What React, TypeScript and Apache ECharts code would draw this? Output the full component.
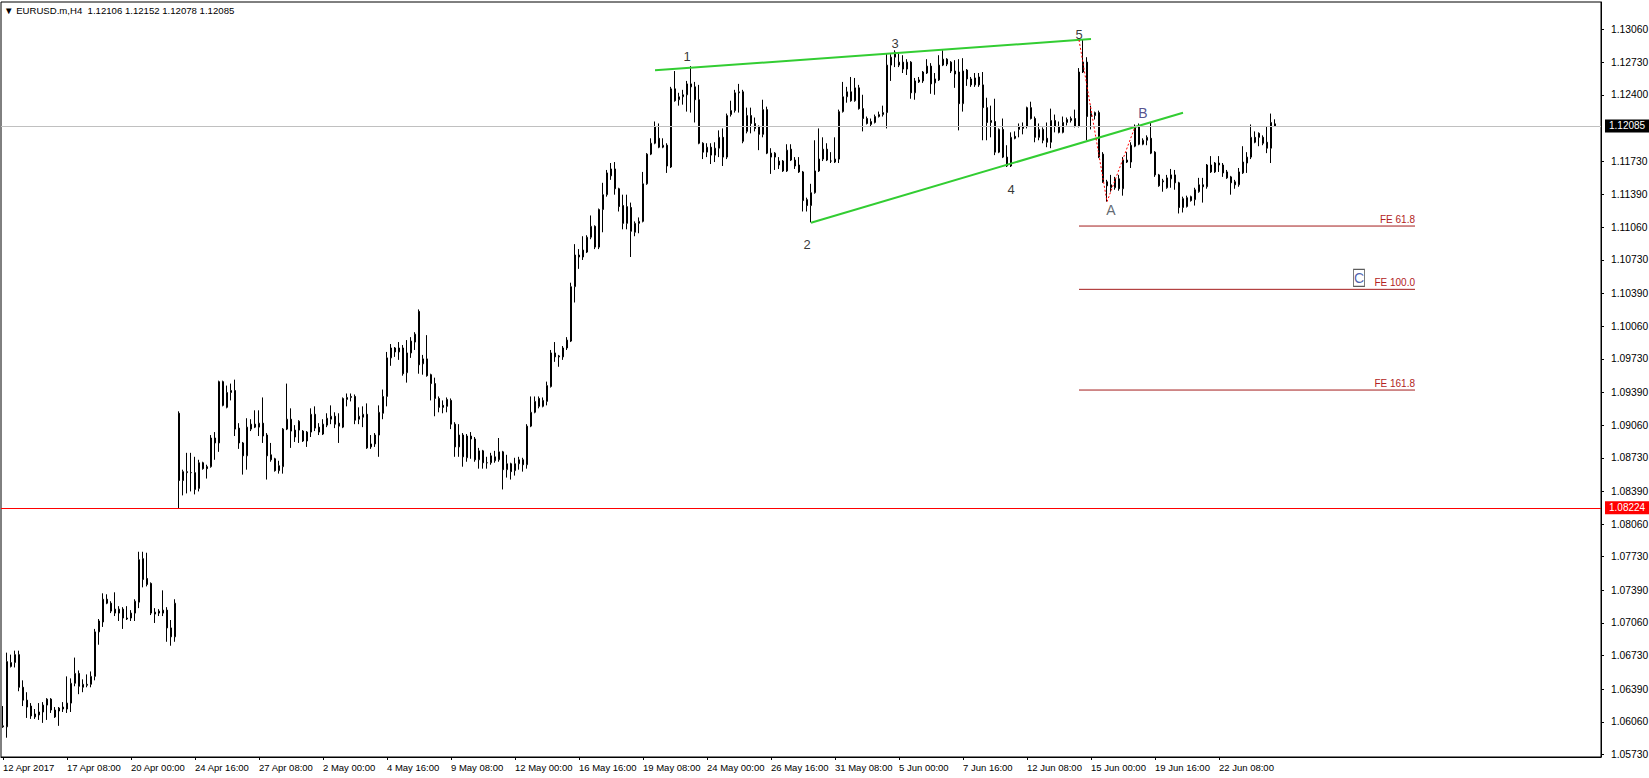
import { useEffect, useRef } from 'react';
import * as echarts from 'echarts';

// EURUSD.m H4, bar 0 = 12 Apr 2017 16:00, one bar every 4 px
const open = [
  1.0601, 1.0601, 1.0662, 1.0666, 1.0674, 1.0641, 1.0628, 1.0622, 1.0611, 1.0613,
  1.0616, 1.0623, 1.0629, 1.0618, 1.0617, 1.0621, 1.0619, 1.0625, 1.0645, 1.0655,
  1.0641, 1.0643, 1.0644, 1.0652, 1.0697, 1.0707, 1.0730, 1.0726, 1.0720, 1.0716,
  1.0720, 1.0711, 1.0711, 1.0716, 1.0727, 1.0771, 1.0751, 1.0746, 1.0715, 1.0716,
  1.0716, 1.0719, 1.0701, 1.0692, 1.0918, 1.0850, 1.0858, 1.0858, 1.0858, 1.0842,
  1.0868, 1.0864, 1.0864, 1.0893, 1.0888, 1.0950, 1.0924, 1.0939, 1.0941, 1.0903,
  1.0888, 1.0875, 1.0902, 1.0907, 1.0904, 1.0908, 1.0896, 1.0876, 1.0872, 1.0860,
  1.0864, 1.0902, 1.0912, 1.0901, 1.0901, 1.0900, 1.0890, 1.0899, 1.0917, 1.0904,
  1.0897, 1.0906, 1.0912, 1.0915, 1.0908, 1.0904, 1.0932, 1.0934, 1.0935, 1.0912,
  1.0914, 1.0917, 1.0884, 1.0887, 1.0896, 1.0918, 1.0935, 1.0974, 1.0984, 1.0980,
  1.0984, 1.0959, 1.0979, 1.0990, 1.1021, 1.0968, 1.0973, 1.0957, 1.0948, 1.0933,
  1.0926, 1.0925, 1.0931, 1.0907, 1.0884, 1.0896, 1.0873, 1.0895, 1.0892, 1.0871,
  1.0880, 1.0868, 1.0868, 1.0870, 1.0871, 1.0879, 1.0861, 1.0867, 1.0860, 1.0867,
  1.0871, 1.0866, 1.0905, 1.0919, 1.0933, 1.0925, 1.0930, 1.0945, 1.0979, 1.0975,
  1.0975, 1.0984, 1.0991, 1.1046, 1.1078, 1.1076, 1.1081, 1.1096, 1.1107, 1.1086,
  1.1124, 1.1139, 1.1158, 1.1165, 1.1145, 1.1128, 1.1110, 1.1126, 1.1101, 1.1110,
  1.1112, 1.1150, 1.1180, 1.1191, 1.1196, 1.1187, 1.1189, 1.1167, 1.1246, 1.1235,
  1.1238, 1.1240, 1.1251, 1.1248, 1.1235, 1.1191, 1.1182, 1.1187, 1.1179, 1.1186,
  1.1197, 1.1177, 1.1220, 1.1224, 1.1242, 1.1243, 1.1203, 1.1219, 1.1211, 1.1208,
  1.1200, 1.1225, 1.1181, 1.1177, 1.1169, 1.1173, 1.1163, 1.1185, 1.1174, 1.1169,
  1.1162, 1.1134, 1.1128, 1.1141, 1.1163, 1.1175, 1.1185, 1.1173, 1.1172, 1.1175,
  1.1223, 1.1238, 1.1243, 1.1234, 1.1247, 1.1226, 1.1216, 1.1210, 1.1212, 1.1218,
  1.1220, 1.1222, 1.1270, 1.1278, 1.1270, 1.1273, 1.1266, 1.1273, 1.1242, 1.1253,
  1.1254, 1.1262, 1.1269, 1.1252, 1.1255, 1.1270, 1.1276, 1.1273, 1.1264, 1.1263,
  1.1231, 1.1265, 1.1256, 1.1250, 1.1258, 1.1250, 1.1227, 1.1212, 1.1213, 1.1182,
  1.1205, 1.1177, 1.1168, 1.1198, 1.1205, 1.1206, 1.1208, 1.1227, 1.1216, 1.1197,
  1.1205, 1.1196, 1.1192, 1.1214, 1.1208, 1.1202, 1.1212, 1.1214, 1.1216, 1.1208,
  1.1263, 1.1273, 1.1218, 1.1219, 1.1222, 1.1180, 1.1152, 1.1146, 1.1146, 1.1155,
  1.1145, 1.1174, 1.1172, 1.1188, 1.1208, 1.1190, 1.1194, 1.1196, 1.1182, 1.1159,
  1.1152, 1.1146, 1.1155, 1.1159, 1.1151, 1.1126, 1.1127, 1.1137, 1.1134, 1.1142,
  1.1149, 1.1147, 1.1169, 1.1162, 1.1171, 1.1169, 1.1162, 1.1157, 1.1152, 1.1149,
  1.1161, 1.1171, 1.1177, 1.1197, 1.1201, 1.1197, 1.1192, 1.1186, 1.12106,
];

const high = [
  1.0622, 1.0676, 1.0674, 1.0678, 1.0678, 1.0648, 1.0636, 1.0625, 1.0619, 1.0625,
  1.0626, 1.0630, 1.0630, 1.0621, 1.0621, 1.0626, 1.0652, 1.0650, 1.0671, 1.0658,
  1.0649, 1.0654, 1.0657, 1.0700, 1.0710, 1.0736, 1.0735, 1.0728, 1.0737, 1.0723,
  1.0722, 1.0723, 1.0719, 1.0730, 1.0778, 1.0778, 1.0777, 1.0747, 1.0721, 1.0720,
  1.0739, 1.0722, 1.0709, 1.0730, 1.0920, 1.0861, 1.0878, 1.0878, 1.0874, 1.0871,
  1.0869, 1.0866, 1.0896, 1.0899, 1.0951, 1.0951, 1.0946, 1.0948, 1.0952, 1.0908,
  1.0889, 1.0913, 1.0912, 1.0921, 1.0921, 1.0934, 1.0898, 1.0888, 1.0873, 1.0870,
  1.0903, 1.0948, 1.0923, 1.0906, 1.0911, 1.0901, 1.0900, 1.0923, 1.0925, 1.0908,
  1.0912, 1.0918, 1.0926, 1.0919, 1.0918, 1.0934, 1.0938, 1.0938, 1.0937, 1.0924,
  1.0925, 1.0928, 1.0896, 1.0898, 1.0926, 1.0942, 1.0980, 1.0988, 1.0985, 1.0990,
  1.0987, 1.0992, 1.0995, 1.1000, 1.1023, 1.0977, 1.0997, 1.0958, 1.0954, 1.0935,
  1.0931, 1.0934, 1.0933, 1.0909, 1.0907, 1.0898, 1.0897, 1.0899, 1.0894, 1.0883,
  1.0881, 1.0874, 1.0878, 1.0880, 1.0893, 1.0880, 1.0876, 1.0868, 1.0873, 1.0874,
  1.0873, 1.0907, 1.0935, 1.0935, 1.0935, 1.0934, 1.0950, 1.0982, 1.0990, 1.0977,
  1.0986, 1.0995, 1.1050, 1.1089, 1.1084, 1.1097, 1.1098, 1.1118, 1.1108, 1.1125,
  1.1151, 1.1164, 1.1171, 1.1172, 1.1146, 1.1139, 1.1139, 1.1131, 1.1112, 1.1116,
  1.1162, 1.1181, 1.1196, 1.1213, 1.1211, 1.1196, 1.1191, 1.1248, 1.1264, 1.1242,
  1.1245, 1.1254, 1.1269, 1.1253, 1.1250, 1.1192, 1.1191, 1.1191, 1.1192, 1.1204,
  1.1206, 1.1221, 1.1234, 1.1245, 1.1251, 1.1245, 1.1227, 1.1227, 1.1217, 1.1209,
  1.1235, 1.1228, 1.1186, 1.1182, 1.1177, 1.1174, 1.1190, 1.1190, 1.1177, 1.1177,
  1.1163, 1.1136, 1.1150, 1.1194, 1.1206, 1.1197, 1.1191, 1.1182, 1.1197, 1.1225,
  1.1253, 1.1248, 1.1258, 1.1257, 1.1250, 1.1240, 1.1218, 1.1216, 1.1220, 1.1223,
  1.1229, 1.1282, 1.1281, 1.1285, 1.1282, 1.1280, 1.1276, 1.1274, 1.1257, 1.1258,
  1.1264, 1.1276, 1.1272, 1.1262, 1.1280, 1.1285, 1.1277, 1.1274, 1.1275, 1.1276,
  1.1277, 1.1266, 1.1258, 1.1262, 1.1262, 1.1263, 1.1237, 1.1229, 1.1236, 1.1206,
  1.1216, 1.1189, 1.1202, 1.1203, 1.1211, 1.1212, 1.1228, 1.1233, 1.1218, 1.1211,
  1.1207, 1.1212, 1.1226, 1.1220, 1.1213, 1.1218, 1.1217, 1.1218, 1.1225, 1.1267,
  1.1296, 1.1278, 1.1229, 1.1223, 1.1224, 1.1182, 1.1154, 1.1159, 1.1157, 1.1159,
  1.1177, 1.1182, 1.1192, 1.1210, 1.1211, 1.1196, 1.1199, 1.1212, 1.1183, 1.1160,
  1.1155, 1.1159, 1.1165, 1.1164, 1.1152, 1.1137, 1.1138, 1.1138, 1.1146, 1.1156,
  1.1156, 1.1170, 1.1178, 1.1172, 1.1178, 1.1171, 1.1164, 1.1158, 1.1154, 1.1166,
  1.1188, 1.1182, 1.1210, 1.1203, 1.1202, 1.1199, 1.1208, 1.1221, 1.12152,
];

const low = [
  1.0600, 1.0590, 1.0661, 1.0661, 1.0637, 1.0622, 1.0610, 1.0609, 1.0609, 1.0608,
  1.0605, 1.0608, 1.0615, 1.0610, 1.0602, 1.0616, 1.0615, 1.0616, 1.0642, 1.0634,
  1.0636, 1.0641, 1.0641, 1.0648, 1.0684, 1.0702, 1.0725, 1.0716, 1.0713, 1.0708,
  1.0700, 1.0709, 1.0708, 1.0708, 1.0721, 1.0742, 1.0743, 1.0714, 1.0706, 1.0713,
  1.0713, 1.0687, 1.0683, 1.0687, 1.0822, 1.0835, 1.0837, 1.0839, 1.0836, 1.0839,
  1.0861, 1.0852, 1.0863, 1.0871, 1.0879, 1.0925, 1.0923, 1.0931, 1.0895, 1.0882,
  1.0856, 1.0861, 1.0900, 1.0903, 1.0895, 1.0888, 1.0851, 1.0869, 1.0859, 1.0857,
  1.0857, 1.0901, 1.0883, 1.0889, 1.0888, 1.0889, 1.0884, 1.0894, 1.0900, 1.0896,
  1.0896, 1.0904, 1.0907, 1.0903, 1.0888, 1.0903, 1.0925, 1.0930, 1.0907, 1.0907,
  1.0904, 1.0882, 1.0882, 1.0884, 1.0874, 1.0912, 1.0925, 1.0966, 1.0975, 1.0972,
  1.0956, 1.0949, 1.0974, 1.0982, 1.0958, 1.0957, 1.0955, 1.0931, 1.0915, 1.0919,
  1.0918, 1.0919, 1.0902, 1.0874, 1.0874, 1.0864, 1.0869, 1.0872, 1.0869, 1.0862,
  1.0862, 1.0862, 1.0866, 1.0868, 1.0869, 1.0841, 1.0853, 1.0851, 1.0855, 1.0861,
  1.0859, 1.0862, 1.0904, 1.0918, 1.0923, 1.0924, 1.0926, 1.0944, 1.0970, 1.0965,
  1.0972, 1.0982, 1.0990, 1.1030, 1.1064, 1.1073, 1.1080, 1.1094, 1.1084, 1.1084,
  1.1101, 1.1137, 1.1154, 1.1139, 1.1122, 1.1104, 1.1104, 1.1076, 1.1097, 1.1100,
  1.1111, 1.1149, 1.1179, 1.1190, 1.1186, 1.1186, 1.1161, 1.1166, 1.1233, 1.1229,
  1.1230, 1.1223, 1.1222, 1.1212, 1.1190, 1.1175, 1.1177, 1.1170, 1.1172, 1.1177,
  1.1168, 1.1175, 1.1218, 1.1222, 1.1222, 1.1191, 1.1201, 1.1201, 1.1203, 1.1184,
  1.1197, 1.1180, 1.1160, 1.1164, 1.1165, 1.1162, 1.1162, 1.1173, 1.1165, 1.1161,
  1.1122, 1.1122, 1.1111, 1.1140, 1.1162, 1.1173, 1.1173, 1.1171, 1.1171, 1.1171,
  1.1222, 1.1232, 1.1233, 1.1233, 1.1225, 1.1203, 1.1210, 1.1208, 1.1211, 1.1217,
  1.1218, 1.1206, 1.1254, 1.1268, 1.1268, 1.1262, 1.1260, 1.1236, 1.1235, 1.1252,
  1.1252, 1.1261, 1.1241, 1.1240, 1.1254, 1.1269, 1.1269, 1.1262, 1.1247, 1.1204,
  1.1223, 1.1249, 1.1248, 1.1248, 1.1248, 1.1194, 1.1194, 1.1197, 1.1179, 1.1181,
  1.1176, 1.1167, 1.1167, 1.1195, 1.1197, 1.1200, 1.1206, 1.1215, 1.1192, 1.1194,
  1.1191, 1.1187, 1.1186, 1.1202, 1.1201, 1.1201, 1.1209, 1.1212, 1.1207, 1.1207,
  1.1262, 1.1194, 1.1205, 1.1215, 1.1176, 1.1151, 1.1132, 1.1142, 1.1144, 1.1143,
  1.1138, 1.1171, 1.1166, 1.1187, 1.1189, 1.1189, 1.1189, 1.1180, 1.1157, 1.1147,
  1.1142, 1.1145, 1.1146, 1.1144, 1.1120, 1.1121, 1.1126, 1.1132, 1.1128, 1.1141,
  1.1131, 1.1145, 1.1161, 1.1161, 1.1162, 1.1157, 1.1155, 1.1139, 1.1145, 1.1147,
  1.1160, 1.1161, 1.1175, 1.1191, 1.1188, 1.1189, 1.1181, 1.1171, 1.12078,
];

const close = [
  1.0602, 1.0667, 1.0666, 1.0674, 1.0641, 1.0628, 1.0621, 1.0612, 1.0614, 1.0616,
  1.0623, 1.0629, 1.0618, 1.0611, 1.0620, 1.0619, 1.0625, 1.0645, 1.0655, 1.0642,
  1.0644, 1.0644, 1.0652, 1.0697, 1.0708, 1.0730, 1.0726, 1.0718, 1.0716, 1.0720,
  1.0711, 1.0710, 1.0716, 1.0728, 1.0770, 1.0750, 1.0745, 1.0716, 1.0717, 1.0718,
  1.0719, 1.0701, 1.0692, 1.0726, 1.0850, 1.0859, 1.0859, 1.0858, 1.0841, 1.0868,
  1.0862, 1.0862, 1.0893, 1.0888, 1.0950, 1.0926, 1.0939, 1.0941, 1.0902, 1.0888,
  1.0875, 1.0904, 1.0907, 1.0904, 1.0908, 1.0895, 1.0875, 1.0871, 1.0860, 1.0865,
  1.0902, 1.0912, 1.0900, 1.0894, 1.0910, 1.0890, 1.0899, 1.0917, 1.0903, 1.0899,
  1.0907, 1.0913, 1.0915, 1.0907, 1.0905, 1.0933, 1.0934, 1.0935, 1.0911, 1.0915,
  1.0917, 1.0883, 1.0887, 1.0896, 1.0919, 1.0935, 1.0974, 1.0984, 1.0980, 1.0984,
  1.0958, 1.0979, 1.0991, 1.0998, 1.0967, 1.0973, 1.0956, 1.0948, 1.0933, 1.0924,
  1.0924, 1.0932, 1.0907, 1.0884, 1.0896, 1.0874, 1.0895, 1.0892, 1.0871, 1.0880,
  1.0868, 1.0868, 1.0875, 1.0874, 1.0879, 1.0861, 1.0867, 1.0859, 1.0867, 1.0871,
  1.0866, 1.0905, 1.0919, 1.0930, 1.0925, 1.0931, 1.0946, 1.0979, 1.0975, 1.0976,
  1.0984, 1.0992, 1.1046, 1.1078, 1.1076, 1.1083, 1.1096, 1.1107, 1.1086, 1.1124,
  1.1139, 1.1161, 1.1165, 1.1145, 1.1127, 1.1110, 1.1127, 1.1102, 1.1110, 1.1112,
  1.1150, 1.1180, 1.1191, 1.1208, 1.1187, 1.1189, 1.1168, 1.1246, 1.1234, 1.1238,
  1.1240, 1.1251, 1.1248, 1.1235, 1.1191, 1.1182, 1.1187, 1.1179, 1.1186, 1.1197,
  1.1177, 1.1219, 1.1224, 1.1242, 1.1243, 1.1193, 1.1219, 1.1211, 1.1206, 1.1200,
  1.1225, 1.1181, 1.1177, 1.1181, 1.1173, 1.1163, 1.1184, 1.1174, 1.1168, 1.1162,
  1.1133, 1.1128, 1.1141, 1.1163, 1.1175, 1.1185, 1.1174, 1.1173, 1.1175, 1.1223,
  1.1238, 1.1243, 1.1234, 1.1247, 1.1226, 1.1216, 1.1211, 1.1213, 1.1218, 1.1220,
  1.1222, 1.1270, 1.1278, 1.1283, 1.1273, 1.1266, 1.1273, 1.1242, 1.1254, 1.1255,
  1.1263, 1.1269, 1.1251, 1.1256, 1.1270, 1.1276, 1.1271, 1.1264, 1.1261, 1.1231,
  1.1264, 1.1256, 1.1250, 1.1257, 1.1250, 1.1227, 1.1212, 1.1214, 1.1182, 1.1205,
  1.1177, 1.1168, 1.1197, 1.1196, 1.1208, 1.1208, 1.1227, 1.1216, 1.1197, 1.1205,
  1.1194, 1.1192, 1.1214, 1.1208, 1.1202, 1.1212, 1.1215, 1.1216, 1.1208, 1.1263,
  1.1273, 1.1218, 1.1221, 1.1222, 1.1177, 1.1152, 1.1148, 1.1149, 1.1155, 1.1145,
  1.1174, 1.1172, 1.1189, 1.1208, 1.1190, 1.1194, 1.1197, 1.1181, 1.1159, 1.1148,
  1.1153, 1.1156, 1.1159, 1.1151, 1.1126, 1.1135, 1.1136, 1.1133, 1.1144, 1.1149,
  1.1147, 1.1169, 1.1162, 1.1171, 1.1169, 1.1161, 1.1156, 1.1151, 1.1149, 1.1162,
  1.1172, 1.1177, 1.1197, 1.1192, 1.1197, 1.1191, 1.1186, 1.1212, 1.12085,
];

// slots on the time axis, empty ones to the right of the last bar
const SLOTS = 400;
const TICK_STEP = 16;
const timeLabels = [
  '12 Apr 2017', '17 Apr 08:00', '20 Apr 00:00', '24 Apr 16:00', '27 Apr 08:00',
  '2 May 00:00', '4 May 16:00', '9 May 08:00', '12 May 00:00', '16 May 16:00',
  '19 May 08:00', '24 May 00:00', '26 May 16:00', '31 May 08:00', '5 Jun 00:00',
  '7 Jun 16:00', '12 Jun 08:00', '15 Jun 00:00', '19 Jun 16:00', '22 Jun 08:00',
];

const priceTicks = [
  1.1306, 1.1273, 1.124, 1.1173, 1.1139, 1.1106, 1.1073, 1.1039, 1.1006, 1.0973,
  1.0939, 1.0906, 1.0873, 1.0839, 1.0806, 1.0773, 1.0739, 1.0706, 1.0673, 1.0639,
  1.0606, 1.0573,
];
const PRICE_MIN = 1.05705;
const PRICE_MAX = 1.13338;

const bidPrice = 1.12085;
const redLevel = 1.08224;

const feLevels = [
  { name: 'FE 61.8', price: 1.11073 },
  { name: 'FE 100.0', price: 1.10433 },
  { name: 'FE 161.8', price: 1.09415 },
];
const feStart = 269;
const feEnd = 353;

const wedgeUpper = [[163, 1.12647], [272, 1.12964]];
const wedgeLower = [[202, 1.11107], [295, 1.12218]];
const zigzag = [[269, 1.12954], [276, 1.11319], [283, 1.12077]];

const waveLabels: [string, number, number, string, number][] = [
  ['1', 171, 1.12785, '#000', 13],
  ['2', 201, 1.10891, '#000', 13],
  ['3', 223, 1.1292, '#000', 13],
  ['4', 252, 1.11444, '#000', 13],
  ['5', 269, 1.13014, '#000', 13],
  ['A', 277, 1.11235, '#38424c', 14],
  ['B', 285, 1.12213, '#2a2470', 14],
];
const waveC = { text: 'C', bar: 339, price: 1.10548 };

const title = '\u25BC EURUSD.m,H4  1.12106 1.12152 1.12078 1.12085';
const FONT = 'Liberation Sans';

export default function App() {
  const chartRef = useRef<HTMLDivElement>(null);

  useEffect(() => {
    document.body.style.margin = '0';
    if (!chartRef.current) return;
    const chart = echarts.init(chartRef.current, undefined, { renderer: 'svg' });

    const categories = Array.from({ length: SLOTS }, (_, i) => String(i));
    const showTick = (i: number) => i % TICK_STEP === 0 && i / TICK_STEP < timeLabels.length;

    const levelLabel = (text: string, bg: string) => ({
      position: 'end',
      distance: 4,
      formatter: text,
      color: '#fff',
      backgroundColor: bg,
      padding: [2, 4, 1, 4],
      fontFamily: FONT,
      fontSize: 10,
    });

    chart.setOption({
      animation: false,
      backgroundColor: '#ffffff',
      title: {
        text: title,
        left: 4,
        top: 5,
        padding: 0,
        textStyle: { fontFamily: FONT, fontSize: 9.6, fontWeight: 'normal', color: '#000' },
      },
      grid: {
        left: 1,
        top: 2,
        width: SLOTS * 4,
        height: 755,
        show: true,
        borderColor: '#000',
        borderWidth: 1,
        backgroundColor: '#fff',
        containLabel: false,
        outerBoundsMode: 'none',
      },
      xAxis: {
        type: 'category',
        data: categories,
        boundaryGap: true,
        axisLine: { show: true, lineStyle: { color: '#000', width: 1 } },
        axisTick: {
          show: true,
          interval: (i: number) => showTick(i),
          alignWithLabel: true,
          length: 3,
          lineStyle: { color: '#000' },
        },
        axisLabel: {
          interval: (i: number) => showTick(i),
          formatter: (_v: string, i: number) => timeLabels[i / TICK_STEP] ?? '',
          align: 'left',
          margin: 5,
          color: '#000',
          fontFamily: FONT,
          fontSize: 9.5,
        },
        splitLine: { show: false },
      },
      yAxis: {
        type: 'value',
        position: 'right',
        min: PRICE_MIN,
        max: PRICE_MAX,
        axisLine: { show: true, lineStyle: { color: '#000' } },
        axisTick: { show: true, customValues: priceTicks, length: 3, lineStyle: { color: '#000' } },
        axisLabel: {
          customValues: priceTicks,
          formatter: (v: number) => v.toFixed(5),
          margin: 10,
          color: '#000',
          fontFamily: FONT,
          fontSize: 10.3,
        },
        splitLine: { show: false },
      },
      series: [
        {
          type: 'candlestick',
          barWidth: 2,
          data: open.map((o, i) => [o, close[i], low[i], high[i]]),
          itemStyle: {
            color: '#ffffff',
            color0: '#000000',
            borderColor: '#000000',
            borderColor0: '#000000',
            borderWidth: 1,
          },
          markLine: {
            silent: true,
            precision: 5,
            symbol: ['none', 'none'],
            data: [
              {
                yAxis: bidPrice,
                lineStyle: { color: '#c0c0c0', width: 1, type: 'solid' },
                label: levelLabel(bidPrice.toFixed(5), '#000'),
              },
              {
                yAxis: redLevel,
                lineStyle: { color: '#ff0000', width: 1, type: 'solid' },
                label: levelLabel(redLevel.toFixed(5), '#ff0000'),
              },
            ],
          },
        },
        ...feLevels.map((fe) => ({
          type: 'line',
          silent: true,
          symbol: 'circle',
          symbolSize: 0,
          showSymbol: true,
          lineStyle: { color: '#a41c1c', width: 1 },
          itemStyle: { color: '#a41c1c' },
          data: [
            [feStart, fe.price],
            {
              value: [feEnd, fe.price],
              label: {
                show: true,
                position: 'top',
                align: 'right',
                distance: 2,
                formatter: fe.name,
                color: '#b22222',
                fontFamily: FONT,
                fontSize: 10,
              },
            },
          ],
        })),
        {
          type: 'line',
          silent: true,
          symbol: 'none',
          z: 4,
          lineStyle: { color: '#32cd32', width: 2 },
          data: wedgeUpper,
        },
        {
          type: 'line',
          silent: true,
          symbol: 'none',
          z: 4,
          lineStyle: { color: '#32cd32', width: 2 },
          data: wedgeLower,
        },
        {
          type: 'line',
          silent: true,
          symbol: 'none',
          z: 5,
          lineStyle: { color: '#ff0000', width: 1, type: [2, 2] },
          data: zigzag,
        },
        {
          type: 'scatter',
          silent: true,
          z: 6,
          symbolSize: 1,
          itemStyle: { color: 'rgba(0,0,0,0)' },
          data: waveLabels.map(([text, bar, price, color, size]) => ({
            value: [bar, price],
            label: {
              show: true,
              position: 'inside',
              formatter: text,
              color,
              fontFamily: FONT,
              fontSize: size,
            },
          })),
        },
        {
          type: 'scatter',
          silent: true,
          z: 6,
          symbol: 'rect',
          symbolSize: [11, 17],
          itemStyle: { color: '#ffffff', borderColor: '#333', borderWidth: 1 },
          data: [
            {
              value: [waveC.bar, waveC.price],
              label: {
                show: true,
                position: 'inside',
                formatter: waveC.text,
                color: '#1f3c9a',
                fontFamily: FONT,
                fontSize: 14,
              },
            },
          ],
        },
      ],
    });

    return () => {
      chart.dispose();
    };
  }, []);

  return <div ref={chartRef} style={{ width: 1649, height: 778 }} />;
}
